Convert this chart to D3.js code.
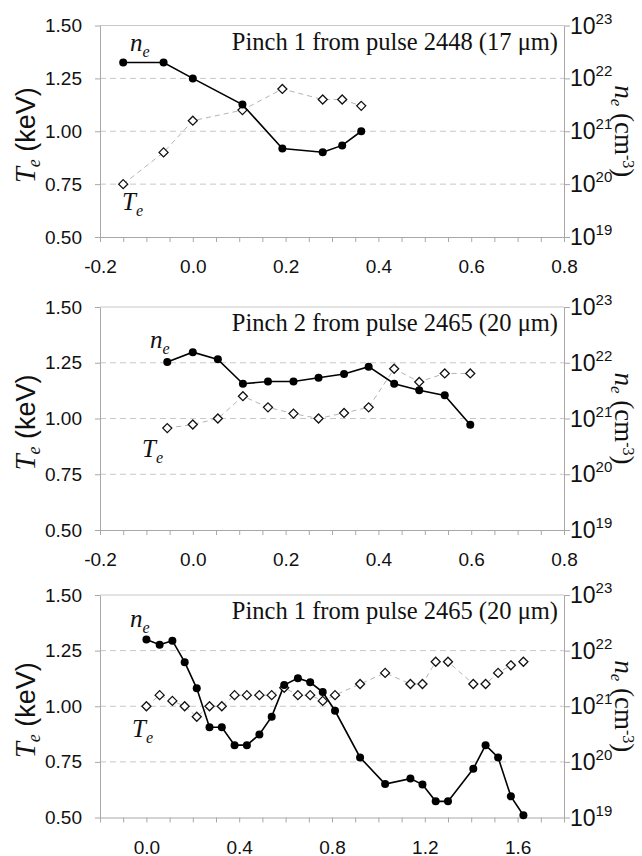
<!DOCTYPE html>
<meta charset="utf-8">
<style>
  body { margin: 0; background: #fff; }
  svg { display: block; }
  .tick text { font-family: 'Liberation Sans', Arial, sans-serif; font-size: 19px; fill: #111; }
  .serif { font-family: 'Liberation Serif', 'Times New Roman', serif; fill: #111; }
  .sans { font-family: 'Liberation Sans', Arial, sans-serif; fill: #111; }
</style>
<body>
<script src="https://cdn.jsdelivr.net/npm/d3@7"></script>
<script>

// ---- data ----
// panel 1: pinch 1, pulse 2448
var p1X  = [-0.150, -0.063, 0.000, 0.107, 0.193, 0.280, 0.322, 0.363];
var p1Te = [0.75, 0.90, 1.05, 1.10, 1.20, 1.15, 1.15, 1.12];
var p1Ne = [2.0e22, 2.0e22, 1.0e22, 3.2e21, 4.7e20, 4.0e20, 5.4e20, 1.0e21];

// panel 2: pinch 2, pulse 2465
var p2X  = [-0.055, 0.000, 0.054, 0.108, 0.162, 0.217, 0.271, 0.326, 0.379, 0.434, 0.488, 0.543, 0.598];
var p2Te = [0.957, 0.973, 1.00, 1.10, 1.05, 1.022, 1.00, 1.025, 1.05, 1.223, 1.164, 1.202, 1.202];
var p2Ne = [1.03e22, 1.55e22, 1.15e22, 4.2e21, 4.6e21, 4.6e21, 5.4e21, 6.3e21, 8.5e21, 4.2e21, 3.2e21, 2.6e21, 7.7e20];

// panel 3: pinch 1, pulse 2465
var p3X  = [0.000, 0.057, 0.112, 0.165, 0.217, 0.272, 0.325, 0.380, 0.433, 0.487, 0.540, 0.594, 0.653, 0.706,
            0.760, 0.813, 0.921, 1.029, 1.138, 1.190, 1.247, 1.300, 1.409, 1.462, 1.516, 1.571, 1.625];
var p3Te = [1.00, 1.05, 1.024, 1.00, 0.953, 1.00, 1.00, 1.05, 1.05, 1.05, 1.05, 1.083, 1.05, 1.05,
            1.024, 1.05, 1.10, 1.15, 1.10, 1.10, 1.20, 1.20, 1.10, 1.10, 1.15, 1.184, 1.20];
var p3Ne = [1.58e22, 1.28e22, 1.51e22, 6.2e21, 2.1e21, 4.2e20, 4.2e20, 2.0e20, 2.0e20, 3.1e20, 6.5e20, 2.4e21, 3.2e21, 2.7e21,
            1.8e21, 8.3e20, 1.2e20, 4.0e19, 5.0e19, 3.9e19, 1.95e19, 1.95e19, 7.5e19, 2.0e20, 1.2e20, 2.4e19, 1.1e19];

var titles = ["Pinch 1 from pulse 2448 (17 \u03bcm)", "Pinch 2 from pulse 2465 (20 \u03bcm)", "Pinch 1 from pulse 2465 (20 \u03bcm)"];
var teTicks = [0.50, 0.75, 1.00, 1.25, 1.50];
var neTicks = [19, 20, 21, 22, 23];   // exponents

// ---- layout ----
var W = 642, H = 856;
var left = 100, right = 564;

var panels = [
  {x: p1X, te: p1Te, ne: p1Ne, title: titles[0], top: 25.5, bottom: 237,
   xdom: [-0.2, 0.8], xticks: [-0.2, 0, 0.2, 0.4, 0.6, 0.8], minor: 0.05,
   nLab: [130, 51], tLab: [122, 210]},
  {x: p2X, te: p2Te, ne: p2Ne, title: titles[1], top: 307, bottom: 530,
   xdom: [-0.2, 0.8], xticks: [-0.2, 0, 0.2, 0.4, 0.6, 0.8], minor: 0.05,
   nLab: [150, 348], tLab: [142, 457]},
  {x: p3X, te: p3Te, ne: p3Ne, title: titles[2], top: 595, bottom: 817.5,
   xdom: [-0.2, 1.8], xticks: [0, 0.4, 0.8, 1.2, 1.6], minor: 0.1,
   nLab: [130, 627], tLab: [132, 737]}
];

var svg = d3.select("body").append("svg")
    .attr("width", W)
    .attr("height", H);

// plain hyphen for negatives, like the original
var fmt1 = function(d) { return d3.format(".1f")(d).replace("\u2212", "-"); };

panels.forEach(function(p) {
  var x = d3.scaleLinear().domain(p.xdom).range([left, right]);
  var y = d3.scaleLinear().domain([0.5, 1.5]).range([p.bottom, p.top]);
  var yn = d3.scaleLog().domain([1e19, 1e23]).range([p.bottom, p.top]);

  var g = svg.append("g");

  // dashed gridlines
  g.selectAll(".grid")
      .data([0.75, 1.00, 1.25])
    .enter().append("line")
      .attr("x1", left).attr("x2", right)
      .attr("y1", function(d) { return y(d); })
      .attr("y2", function(d) { return y(d); })
      .attr("stroke", "#c8c8c8")
      .attr("stroke-dasharray", "6,4");

  // top border
  g.append("line")
      .attr("x1", left).attr("x2", right)
      .attr("y1", p.top).attr("y2", p.top)
      .attr("stroke", "#c8c8c8");

  // x axis
  var minorTicks = d3.range(p.xdom[0], p.xdom[1] + 1e-9, p.minor);
  var xa = g.append("g")
      .attr("transform", "translate(0," + p.bottom + ")")
      .call(d3.axisBottom(x).tickValues(minorTicks).tickSize(5).tickSizeOuter(0)
        .tickFormat(function(d) {
          var hit = p.xticks.some(function(t) { return Math.abs(t - d) < 1e-6; });
          return hit ? fmt1(d) : "";
        }));
  xa.selectAll(".tick text").attr("dy", 0).attr("y", 36);

  // left axis
  var ya = g.append("g")
      .attr("transform", "translate(" + left + ",0)")
      .call(d3.axisLeft(y).tickValues(teTicks).tickSize(5).tickSizeOuter(0)
        .tickFormat(d3.format(".2f")));
  ya.selectAll(".tick text").attr("x", -18);

  // right axis (log)
  var na = g.append("g")
      .attr("transform", "translate(" + right + ",0)")
      .call(d3.axisRight(yn).tickValues(neTicks.map(function(e) { return Math.pow(10, e); }))
        .tickSize(6).tickSizeOuter(0).tickFormat(""));
  na.selectAll(".tick").each(function(d) {
    var t = d3.select(this).append("text")
        .attr("class", "serif")
        .attr("x", 6)
        .attr("y", 7.5)
        .attr("text-anchor", "start")
        .style("font-size", "23px");
    t.append("tspan").text("10");
    t.append("tspan").attr("dy", -10).style("font-size", "15px")
      .text(Math.round(Math.log10(d)));
  });

  [xa, ya, na].forEach(function(a) {
    a.selectAll("path, line").attr("stroke", "#a8a8a8");
  });

  // T_e dashed line + open diamonds
  var teData = p.x.map(function(v, i) { return [v, p.te[i]]; });
  g.append("path")
      .datum(teData)
      .attr("fill", "none")
      .attr("stroke", "#b4b4b4")
      .attr("stroke-width", 1)
      .attr("stroke-dasharray", "5,4")
      .attr("d", d3.line()
        .x(function(d) { return x(d[0]); })
        .y(function(d) { return y(d[1]); }));

  // n_e solid line + filled circles
  var neData = p.x.map(function(v, i) { return [v, p.ne[i]]; });
  g.append("path")
      .datum(neData)
      .attr("fill", "none")
      .attr("stroke", "#000")
      .attr("stroke-width", 1.6)
      .attr("d", d3.line()
        .x(function(d) { return x(d[0]); })
        .y(function(d) { return yn(d[1]); }));

  g.selectAll(".dia")
      .data(teData)
    .enter().append("path")
      .attr("transform", function(d) { return "translate(" + x(d[0]) + "," + y(d[1]) + ")"; })
      .attr("d", "M0,-4.5L4.5,0L0,4.5L-4.5,0Z")
      .attr("fill", "#fff")
      .attr("stroke", "#111")
      .attr("stroke-width", 1.3);

  g.selectAll(".dot")
      .data(neData)
    .enter().append("circle")
      .attr("cx", function(d) { return x(d[0]); })
      .attr("cy", function(d) { return yn(d[1]); })
      .attr("r", 4)
      .attr("fill", "#000");

  // title
  g.append("text")
      .attr("class", "serif")
      .attr("x", 558)
      .attr("y", p.top + 24)
      .attr("text-anchor", "end")
      .style("font-size", "24.5px")
      .text(p.title);

  // series labels
  var nl = g.append("text").attr("class", "serif")
      .attr("x", p.nLab[0]).attr("y", p.nLab[1])
      .style("font-size", "25px").style("font-style", "italic");
  nl.append("tspan").text("n");
  nl.append("tspan").attr("dy", 6).style("font-size", "16px").text("e");

  var tl = g.append("text").attr("class", "serif")
      .attr("x", p.tLab[0]).attr("y", p.tLab[1])
      .style("font-size", "25px").style("font-style", "italic");
  tl.append("tspan").text("T");
  tl.append("tspan").attr("dy", 6).style("font-size", "16px").text("e");

  // left title
  var mid = (p.top + p.bottom) / 2 + 4;
  var lt = g.append("text")
      .attr("transform", "translate(35," + mid + ") rotate(-90)")
      .attr("text-anchor", "middle")
      .style("font-size", "27px");
  lt.append("tspan").attr("class", "serif").style("font-style", "italic").style("font-size", "29px").text("T");
  lt.append("tspan").attr("class", "serif").style("font-style", "italic")
    .style("font-size", "18px").attr("dy", 5).text("e");
  lt.append("tspan").attr("class", "sans").attr("dy", -5).text(" (keV)");

  // right title
  var rt = g.append("text")
      .attr("class", "serif")
      .attr("transform", "translate(615," + ((p.top + p.bottom) / 2) + ") rotate(90)")
      .attr("text-anchor", "middle")
      .style("font-size", "27px");
  rt.append("tspan").style("font-style", "italic").text("n");
  rt.append("tspan").style("font-style", "italic").style("font-size", "17px").attr("dy", 4).text("e");
  rt.append("tspan").attr("dy", -4).text(" (cm");
  rt.append("tspan").style("font-size", "16px").attr("dy", -8).text("-3");
  rt.append("tspan").attr("dy", 8).text(")");
});

</script>
</body>
